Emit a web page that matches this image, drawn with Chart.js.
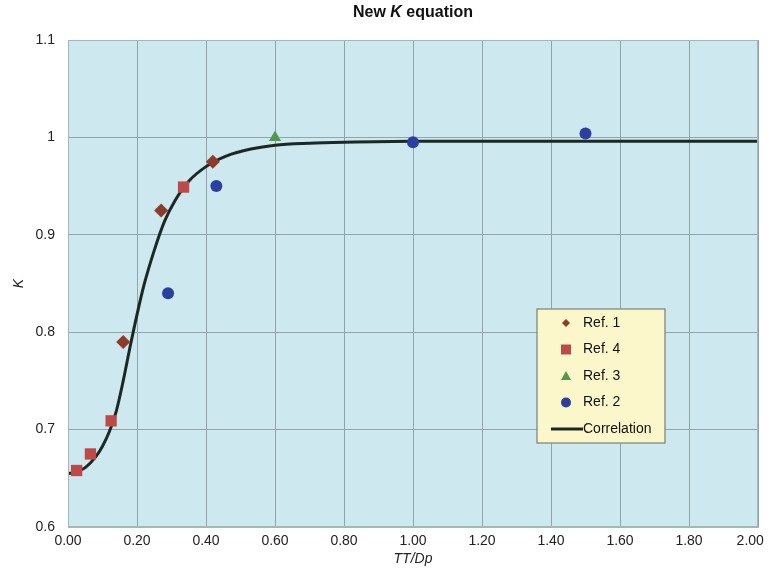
<!DOCTYPE html>
<html>
<head>
<meta charset="utf-8">
<script src="https://cdn.jsdelivr.net/npm/chart.js@4.4.1/dist/chart.umd.min.js"></script>
<style>
  body { margin: 0; background: #fff; }
  #wrap { position: relative; width: 770px; height: 568px; }
  #title {
    position: absolute; top: 3px; left: 313px; width: 200px;
    text-align: center; color: #111;
    font: bold 16px 'Liberation Sans', Arial, sans-serif;
  }
</style>
</head>
<body>
<div id="wrap">
  <canvas id="kChart" width="770" height="568"></canvas>
  <div id="title">New <i>K</i> equation</div>
</div>
<script>
// measured points
const ref1X = [0.16, 0.27, 0.42];
const ref1Y = [0.79, 0.925, 0.975];
const ref4X = [0.025, 0.065, 0.125, 0.335];
const ref4Y = [0.658, 0.675, 0.709, 0.949];
const ref3X = [0.60];
const ref3Y = [1.0];
const ref2X = [0.29, 0.43, 1.00, 1.50];
const ref2Y = [0.84, 0.95, 0.995, 1.004];

// correlation curve
const corrX = [0, 0.02, 0.05, 0.08, 0.10, 0.12, 0.14, 0.16, 0.18, 0.20, 0.22, 0.25, 0.28, 0.31, 0.35, 0.40, 0.46, 0.53, 0.60, 0.70, 0.80, 1.00, 1.50, 2.00];
const corrY = [0.655, 0.656, 0.661, 0.672, 0.683, 0.698, 0.719, 0.750, 0.785, 0.818, 0.848, 0.884, 0.914, 0.935, 0.955, 0.970, 0.981, 0.988, 0.992, 0.994, 0.995, 0.996, 0.996, 0.996];

const legendLabels = ['Ref. 1', 'Ref. 4', 'Ref. 3', 'Ref. 2', 'Correlation'];

const pts = (xs, ys) => xs.map((x, i) => ({ x: x, y: ys[i] }));

const FONT = "'Liberation Sans', Arial, sans-serif";

const plotBg = {
    id: 'plotBg',
    beforeDraw(chart) {
        const { ctx, chartArea: a } = chart;
        ctx.save();
        ctx.fillStyle = '#cde8ef';
        ctx.fillRect(a.left, a.top, a.right - a.left, a.bottom - a.top);
        ctx.restore();
    },
    afterDraw(chart) {
        const { ctx, chartArea: a } = chart;
        ctx.save();
        ctx.strokeStyle = '#a3b6ba';
        ctx.lineWidth = 1;
        ctx.strokeRect(a.left + 0.5, a.top + 0.5, a.right - a.left - 1, a.bottom - a.top - 1);
        ctx.restore();
    }
};

function marker(ctx, style, x, y, r) {
    ctx.beginPath();
    if (style === 'rectRot') {
        ctx.moveTo(x, y - r); ctx.lineTo(x + r, y); ctx.lineTo(x, y + r); ctx.lineTo(x - r, y);
    } else if (style === 'rect') {
        ctx.rect(x - r, y - r, 2 * r, 2 * r);
    } else if (style === 'triangle') {
        ctx.moveTo(x, y - r); ctx.lineTo(x + r, y + r * 0.8); ctx.lineTo(x - r, y + r * 0.8);
    } else {
        ctx.arc(x, y, r, 0, Math.PI * 2);
    }
    ctx.closePath();
    ctx.fill();
}

// legend box inside the plot, lower right
const boxLegend = {
    id: 'boxLegend',
    afterDraw(chart) {
        const { ctx } = chart;
        const left = 537, top = 309, w = 128, h = 134;
        ctx.save();
        ctx.fillStyle = '#fbf7cb';
        ctx.fillRect(left, top, w, h);
        ctx.strokeStyle = '#8d968c';
        ctx.lineWidth = 1.5;
        ctx.strokeRect(left, top, w, h);
        ctx.font = '14px ' + FONT;
        ctx.textBaseline = 'middle';
        const sizes = [4, 5, 5, 5];
        chart.data.datasets.forEach((ds, i) => {
            const y = top + 14 + i * 26.5;
            if (ds.showLine) {
                ctx.strokeStyle = ds.borderColor;
                ctx.lineWidth = 3;
                ctx.beginPath();
                ctx.moveTo(551, y); ctx.lineTo(583, y);
                ctx.stroke();
            } else {
                ctx.fillStyle = ds.backgroundColor;
                marker(ctx, ds.pointStyle, 566, y, sizes[i]);
            }
            ctx.fillStyle = '#111';
            ctx.fillText(legendLabels[i], 583, y);
        });
        ctx.restore();
    }
};

const ctx = document.getElementById('kChart').getContext('2d');
const chart = new Chart(ctx, {
    type: 'scatter',
    data: {
        datasets: [
            { label: legendLabels[0], data: pts(ref1X, ref1Y), pointStyle: 'rectRot', pointRadius: 7,
              backgroundColor: '#8e3b2c', borderColor: '#8e3b2c', borderWidth: 0 },
            { label: legendLabels[1], data: pts(ref4X, ref4Y), pointStyle: 'rect', pointRadius: 8,
              backgroundColor: '#bd4a48', borderColor: '#bd4a48', borderWidth: 0 },
            { label: legendLabels[2], data: pts(ref3X, ref3Y), pointStyle: 'triangle', pointRadius: 7,
              backgroundColor: '#4f9a4e', borderColor: '#4f9a4e', borderWidth: 0 },
            { label: legendLabels[3], data: pts(ref2X, ref2Y), pointStyle: 'circle', pointRadius: 6,
              backgroundColor: '#2c3f9e', borderColor: '#2c3f9e', borderWidth: 0 },
            { label: legendLabels[4], data: pts(corrX, corrY), showLine: true, pointRadius: 0,
              cubicInterpolationMode: 'monotone', borderColor: '#1b2824', borderWidth: 3,
              backgroundColor: '#1b2824' }
        ]
    },
    options: {
        responsive: false,
        animation: false,
        layout: { padding: { top: 40, right: 12, left: 0, bottom: 0 } },
        plugins: { legend: { display: false }, tooltip: { enabled: false } },
        scales: {
            x: {
                min: 0, max: 2,
                ticks: { stepSize: 0.2, padding: 6, color: '#222', font: { family: FONT, size: 14 },
                         // last label pulled left a little so it stays on the canvas
                         callback: v => v >= 2 ? v.toFixed(2) + '    ' : v.toFixed(2) },
                grid: { color: '#8fa5aa', drawTicks: false },
                border: { color: '#a3b6ba' },
                title: { display: true, text: 'TT/Dp', color: '#222', padding: { top: 0, bottom: 0 },
                         font: { family: FONT, size: 14, style: 'italic' } },
                afterFit: s => { s.height = 41; s.paddingLeft = 0; s.paddingRight = 0; }
            },
            y: {
                min: 0.6, max: 1.1,
                ticks: { stepSize: 0.1, padding: 13, color: '#222', font: { family: FONT, size: 14 },
                         callback: v => Math.abs(v - 1) < 1e-9 ? '1' : v.toFixed(1) },
                grid: { color: '#8fa5aa', drawTicks: false },
                border: { color: '#a3b6ba' },
                title: { display: true, text: 'K', color: '#222', padding: { top: 11, bottom: 0 },
                         font: { family: FONT, size: 14, style: 'italic' } },
                afterFit: s => { s.width = 68; s.paddingTop = 0; s.paddingBottom = 0; }
            }
        }
    },
    plugins: [plotBg, boxLegend]
});
</script>
</body>
</html>
